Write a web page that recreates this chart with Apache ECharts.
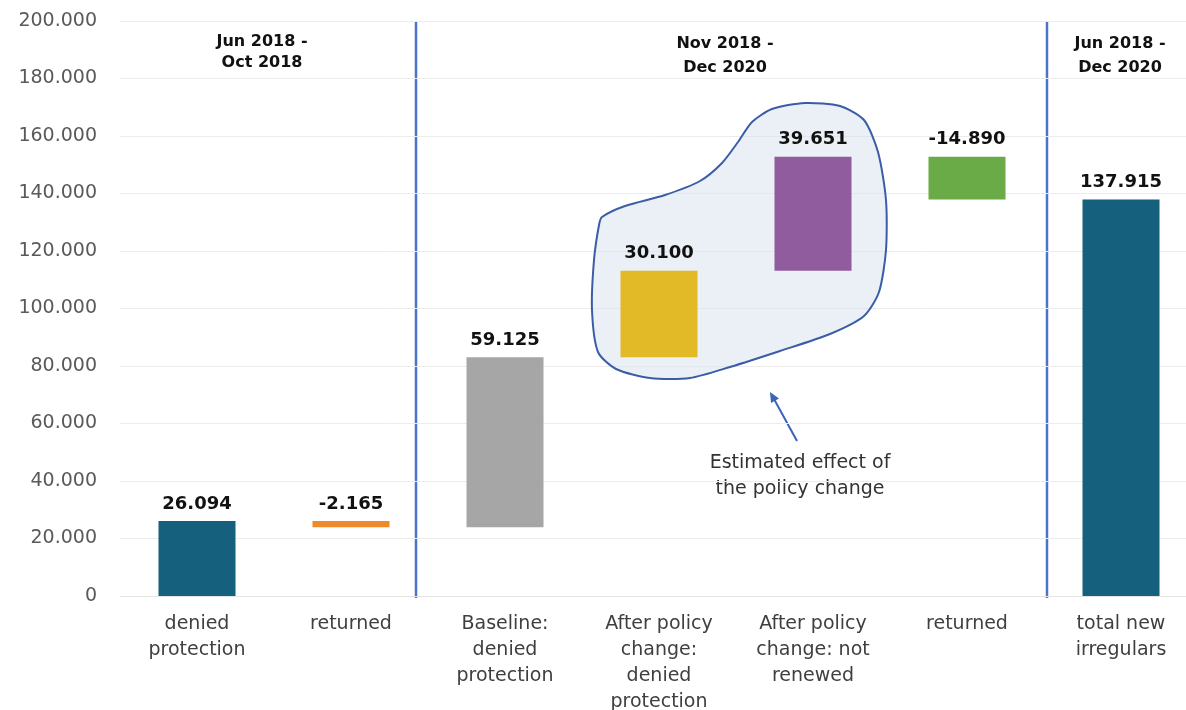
<!DOCTYPE html>
<html>
<head>
<meta charset="utf-8">
<script src="https://cdn.jsdelivr.net/npm/echarts@6/dist/echarts.min.js"></script>
<style>
  html, body { margin: 0; padding: 0; background: #fff; }
  #chart { width: 1186px; height: 710px; }
</style>
</head>
<body>
<div id="chart"></div>
<script>
// categories and steps of the waterfall
const categories = [
  'denied\nprotection',
  'returned',
  'Baseline:\ndenied\nprotection',
  'After policy\nchange:\ndenied\nprotection',
  'After policy\nchange: not\nrenewed',
  'returned',
  'total new\nirregulars'
]
const deltas = [26094, -2165, 59125, 30100, 39651, -14890]
const total = 137915
const barColors = ['#15607d', '#ee8a2a', '#a6a6a6', '#e2b927', '#915c9d', '#6aab47', '#15607d']
const yTicks = [0, 20000, 40000, 60000, 80000, 100000, 120000, 140000, 160000, 180000, 200000]
const periods = ['Jun 2018 -\nOct 2018', 'Nov 2018 -\nDec 2020', 'Jun 2018 -\nDec 2020']

// build base + visible segments
const base = []
const height = []
const signed = []
let run = 0
deltas.forEach((d) => {
  const next = run + d
  base.push(Math.min(run, next))
  height.push(Math.abs(d))
  signed.push(d)
  run = next
})
base.push(0)
height.push(total)
signed.push(total)

function fmt(v) {
  const s = Math.abs(v).toString().replace(/\B(?=(\d{3})+(?!\d))/g, '.')
  return (v < 0 ? '-' : '') + s
}

const font = '"DejaVu Sans", sans-serif'
const chart = echarts.init(document.getElementById('chart'))

// hand-drawn outline around the policy effect bars (annotation only)
const blob = [[602,217],[625,206],[665,195],[700,181],[722,163],[738,142],[752,122],[772,109],[805,103],[840,106],[864,120],[878,152],[886,200],[886,250],[879,292],[864,316],[830,334],[780,351],[730,367],[690,378],[650,378],[616,369],[598,352],[592,310],[594,260],[599,225]]

chart.setOption({
  animation: false,
  grid: { left: 120, right: -12, top: 21, bottom: 114, outerBoundsMode: 'none', containLabel: false },
  xAxis: {
    type: 'category',
    data: categories,
    axisLine: { show: true, lineStyle: { color: '#e4e4e4' } },
    axisTick: { show: false },
    axisLabel: {
      interval: 0,
      margin: 15,
      color: '#3f3f3f',
      fontSize: 19,
      lineHeight: 26,
      fontFamily: font
    }
  },
  yAxis: {
    type: 'value',
    min: 0,
    max: yTicks[yTicks.length - 1],
    interval: 20000,
    axisLine: { show: false },
    axisTick: { show: false },
    splitLine: { lineStyle: { color: '#ececec' } },
    axisLabel: {
      margin: 23,
      color: '#595959',
      fontSize: 19,
      fontFamily: font,
      formatter: (v) => fmt(v)
    }
  },
  series: [
    {
      type: 'bar',
      stack: 'w',
      barWidth: '50%',
      itemStyle: { color: 'transparent' },
      data: base,
      silent: true
    },
    {
      type: 'bar',
      stack: 'w',
      barWidth: '50%',
      z: 3,
      data: height.map((h, i) => ({
        value: h,
        itemStyle: { color: barColors[i] }
      })),
      label: {
        show: true,
        position: 'top',
        distance: 8,
        color: '#111',
        fontWeight: 'bold',
        fontSize: 18,
        fontFamily: font,
        formatter: (p) => fmt(signed[p.dataIndex])
      }
    }
  ],
  graphic: [
    {
      type: 'polygon',
      z: 1,
      shape: { points: blob, smooth: 0.25 },
      style: { fill: 'rgba(214,226,238,0.5)', stroke: '#3b5da6', lineWidth: 2 }
    },
    {
      type: 'line',
      shape: { x1: 416, y1: 21, x2: 416, y2: 598 },
      style: { stroke: '#4a74c9', lineWidth: 2.5 }
    },
    {
      type: 'line',
      shape: { x1: 1047, y1: 21, x2: 1047, y2: 598 },
      style: { stroke: '#4a74c9', lineWidth: 2.5 }
    },
    {
      type: 'line',
      shape: { x1: 797, y1: 441, x2: 774, y2: 399 },
      style: { stroke: '#3b63b8', lineWidth: 2 }
    },
    {
      type: 'polygon',
      shape: { points: [[770, 392], [779, 398.6], [771, 403]] },
      style: { fill: '#3b63b8' }
    },
    {
      type: 'text',
      x: 800, y: 450,
      style: {
        text: 'Estimated effect of\nthe policy change',
        align: 'center',
        fill: '#333',
        fontSize: 19,
        lineHeight: 26,
        fontFamily: font
      }
    },
    {
      type: 'text', x: 262, y: 31,
      style: { text: periods[0], align: 'center', fill: '#111', fontSize: 16, fontWeight: 'bold', lineHeight: 21, fontFamily: font }
    },
    {
      type: 'text', x: 725, y: 32,
      style: { text: periods[1], align: 'center', fill: '#111', fontSize: 16, fontWeight: 'bold', lineHeight: 24, fontFamily: font }
    },
    {
      type: 'text', x: 1120, y: 32,
      style: { text: periods[2], align: 'center', fill: '#111', fontSize: 16, fontWeight: 'bold', lineHeight: 24, fontFamily: font }
    }
  ]
})
</script>
</body>
</html>
